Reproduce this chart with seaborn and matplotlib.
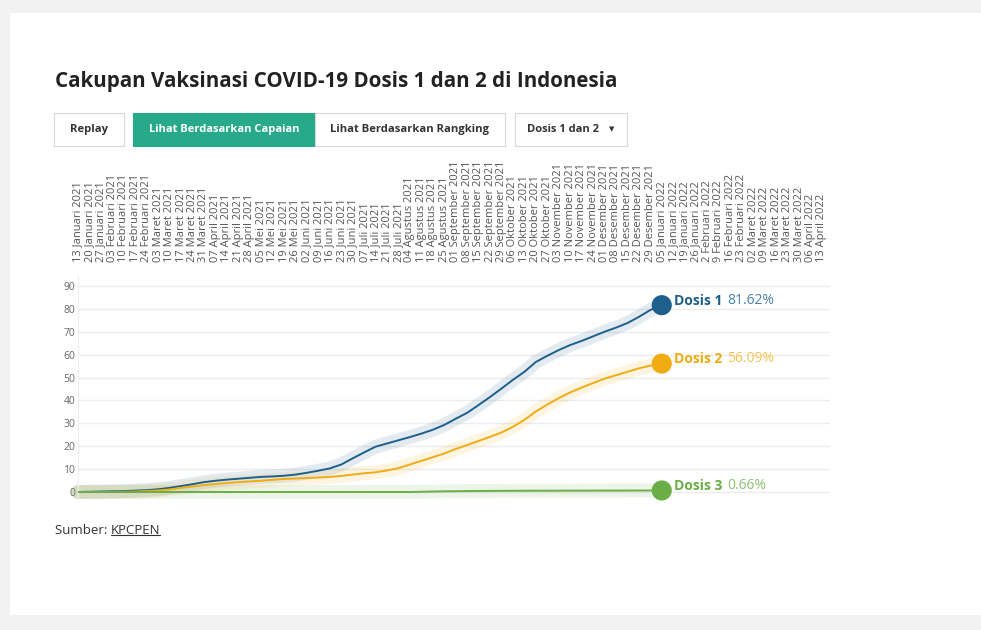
import matplotlib
matplotlib.use("Agg")
import matplotlib.pyplot as plt
from matplotlib.patches import Rectangle
from matplotlib.lines import Line2D
import numpy as np
import pandas as pd
import seaborn as sns

# --- data ---
week_labels = [
    "13 Januari 2021", "20 Januari 2021", "27 Januari 2021",
    "03 Februari 2021", "10 Februari 2021", "17 Februari 2021", "24 Februari 2021",
    "03 Maret 2021", "10 Maret 2021", "17 Maret 2021", "24 Maret 2021", "31 Maret 2021",
    "07 April 2021", "14 April 2021", "21 April 2021", "28 April 2021",
    "05 Mei 2021", "12 Mei 2021", "19 Mei 2021", "26 Mei 2021",
    "02 Juni 2021", "09 Juni 2021", "16 Juni 2021", "23 Juni 2021", "30 Juni 2021",
    "07 Juli 2021", "14 Juli 2021", "21 Juli 2021", "28 Juli 2021",
    "04 Agustus 2021", "11 Agustus 2021", "18 Agustus 2021", "25 Agustus 2021",
    "01 September 2021", "08 September 2021", "15 September 2021",
    "22 September 2021", "29 September 2021",
    "06 Oktober 2021", "13 Oktober 2021", "20 Oktober 2021", "27 Oktober 2021",
    "03 November 2021", "10 November 2021", "17 November 2021", "24 November 2021",
    "01 Desember 2021", "08 Desember 2021", "15 Desember 2021",
    "22 Desember 2021", "29 Desember 2021",
    "05 Januari 2022", "12 Januari 2022", "19 Januari 2022", "26 Januari 2022",
    "2 Februari 2022", "9 Februari 2022", "16 Februari 2022", "23 Februari 2022",
    "02 Maret 2022", "09 Maret 2022", "16 Maret 2022", "23 Maret 2022", "30 Maret 2022",
    "06 April 2022", "13 April 2022",
]

dosis_1 = [
    0.0, 0.1, 0.2, 0.3, 0.4, 0.6, 0.8, 1.2, 1.8, 2.6,
    3.4, 4.3, 4.9, 5.4, 5.8, 6.2, 6.6, 6.8, 7.1, 7.6,
    8.4, 9.3, 10.3, 12.0, 14.7, 17.3, 19.8, 21.2, 22.6, 24.0,
    25.5, 27.2, 29.3, 32.0, 34.6, 38.0, 41.5, 45.2, 49.0, 52.5,
    56.8, 59.5, 62.0, 64.2, 66.0, 68.0, 70.0, 71.8, 73.8, 76.5,
    79.5, 81.62,
]
dosis_2 = [
    0.0, 0.0, 0.0, 0.05, 0.1, 0.2, 0.4, 0.7, 1.1, 1.8,
    2.4, 3.0, 3.5, 3.9, 4.3, 4.6, 4.9, 5.3, 5.7, 5.9,
    6.1, 6.3, 6.6, 7.0, 7.6, 8.2, 8.6, 9.4, 10.4, 12.0,
    13.6, 15.2, 16.8, 18.8, 20.5, 22.3, 24.1, 26.0, 28.5, 31.5,
    35.2, 38.2, 41.0, 43.5, 45.6, 47.6, 49.5, 51.0, 52.5, 54.0,
    55.2, 56.09,
]
dosis_3 = [
    0.0, 0.0, 0.0, 0.0, 0.0, 0.0, 0.0, 0.0, 0.0, 0.0,
    0.0, 0.0, 0.0, 0.0, 0.0, 0.0, 0.0, 0.0, 0.0, 0.0,
    0.0, 0.0, 0.0, 0.0, 0.0, 0.0, 0.0, 0.0, 0.0, 0.0,
    0.1, 0.2, 0.3, 0.35, 0.4, 0.45, 0.47, 0.5, 0.52, 0.54,
    0.55, 0.56, 0.57, 0.58, 0.59, 0.6, 0.61, 0.62, 0.63, 0.64,
    0.65, 0.66,
]
series_names = ["Dosis 1", "Dosis 2", "Dosis 3"]
y_ticks = [0, 10, 20, 30, 40, 50, 60, 70, 80, 90]

colors = {"Dosis 1": "#1f5f8b", "Dosis 2": "#f0ac12", "Dosis 3": "#6aae45"}
label_value_colors = {"Dosis 1": "#4a82a8", "Dosis 2": "#f4c250", "Dosis 3": "#8cc070"}

W, H = 981, 630
def fx(px):
    return px / W
def fy(py):
    return 1 - py / H

sns.set_theme(style="white")
plt.rcParams["font.family"] = ["Open Sans", "DejaVu Sans"]

df = pd.DataFrame({
    "week": list(range(len(dosis_1))) * 3,
    "value": dosis_1 + dosis_2 + dosis_3,
    "dosis": [n for n in series_names for _ in range(len(dosis_1))],
})

fig = plt.figure(figsize=(9.81, 6.3), dpi=100)
fig.patch.set_facecolor("#f2f2f2")
fig.add_artist(Rectangle((fx(10), fy(615)), fx(981) - fx(10), fy(13) - fy(615),
                         transform=fig.transFigure, facecolor="white", edgecolor="none",
                         zorder=-10))

ax = fig.add_axes([fx(78), fy(500), fx(830) - fx(78), fy(275) - fy(500)])
ax.set_facecolor("none")

# halo behind each line
sns.lineplot(data=df, x="week", y="value", hue="dosis", palette=colors, ax=ax,
             linewidth=10, alpha=0.12, legend=False, solid_capstyle="round",
             clip_on=False, zorder=1)
sns.lineplot(data=df, x="week", y="value", hue="dosis", palette=colors, ax=ax,
             linewidth=1.4, legend=False, zorder=3)

last = df.groupby("dosis").tail(1)
sns.scatterplot(data=last, x="week", y="value", hue="dosis", palette=colors, ax=ax,
                s=210, edgecolor="none", legend=False, zorder=4, clip_on=False)

for _, row in last.iterrows():
    name = row["dosis"]
    t1 = ax.annotate(name, xy=(row["week"], row["value"]), xytext=(9, 3),
                     textcoords="offset points", va="center", ha="left",
                     fontsize=10, fontweight="bold", color=colors[name])
    ax.annotate(f"{row['value']:.2f}%", xy=(1, 0), xycoords=t1, xytext=(3, 0),
                textcoords="offset points", va="bottom", ha="left",
                fontsize=10, color=label_value_colors[name])

ax.set_xlim(0, 65.7)
ax.set_ylim(-3.5, 94.8)
ax.set_xticks(range(len(week_labels)))
ax.set_xticklabels(week_labels, rotation=90, fontsize=8, color="#555555")
ax.xaxis.tick_top()
ax.tick_params(axis="x", length=0, pad=9.4)
ax.set_yticks(y_ticks)
ax.set_yticklabels([str(v) for v in y_ticks], fontsize=7.5, color="#666666")
ax.tick_params(axis="y", length=0, pad=2)
ax.yaxis.grid(True, color="#ececec", linewidth=1)
ax.xaxis.grid(False)
ax.set_xlabel("")
ax.set_ylabel("")
for side in ["top", "right", "bottom"]:
    ax.spines[side].set_visible(False)
ax.spines["left"].set_color("#eeeeee")
ax.spines["left"].set_linewidth(0.8)

# title
title = fig.text(fx(55), fy(82), "Cakupan Vaksinasi COVID-19 Dosis 1 dan 2 di Indonesia",
                 fontsize=18, fontweight="bold", color="#222222", va="center", ha="left")

renderer = fig.canvas.get_renderer()
def fit_width(txt, width_px):
    w = txt.get_window_extent(renderer=renderer).width
    txt.set_fontsize(txt.get_fontsize() * width_px / w)

fit_width(title, 561)

# buttons
buttons = [
    ("Replay", 54, 124, "white", "#333333"),
    ("Lihat Berdasarkan Capaian", 133, 315, "#27a98a", "white"),
    ("Lihat Berdasarkan Rangking", 315, 505, "white", "#333333"),
    ("Dosis 1 dan 2", 515, 627, "white", "#333333"),
]
text_widths = [38, 151, 159, 72]
for (label, x0, x1, fc, tc), tw in zip(buttons, text_widths):
    ec = fc if fc != "white" else "#d6d6d6"
    fig.add_artist(Rectangle((fx(x0), fy(146)), fx(x1) - fx(x0), fy(113) - fy(146),
                             transform=fig.transFigure, facecolor=fc, edgecolor=ec,
                             linewidth=0.8))
    if label.startswith("Dosis"):
        t = fig.text(fx(527), fy(129.5), label, fontsize=10, fontweight="bold",
                     color=tc, va="center", ha="left")
        fig.text(fx(612), fy(129.5), "\u25BC", fontsize=5, color="#333333",
                 va="center", ha="center", family=["DejaVu Sans"])
    else:
        t = fig.text(fx((x0 + x1) / 2), fy(129.5), label, fontsize=10, fontweight="bold",
                     color=tc, va="center", ha="center")
    fit_width(t, tw)

# source
src = fig.text(fx(55), fy(530), "Sumber: ", fontsize=9.5, color="#333333",
               va="center", ha="left")
link = fig.text(0, 0, "KPCPEN", fontsize=9.5, color="#333333", va="center", ha="left")
fig.canvas.draw()
bb = src.get_window_extent(renderer=renderer)
link.set_position((bb.x1 / fig.bbox.width, fy(530)))
fig.canvas.draw()
lb = link.get_window_extent(renderer=renderer)
uy = (lb.y0 + 2) / fig.bbox.height
fig.add_artist(Line2D([lb.x0 / fig.bbox.width, lb.x1 / fig.bbox.width], [uy, uy],
                      transform=fig.transFigure, color="#333333", linewidth=0.8))

fig.savefig("out.png", dpi=100, facecolor=fig.get_facecolor())
